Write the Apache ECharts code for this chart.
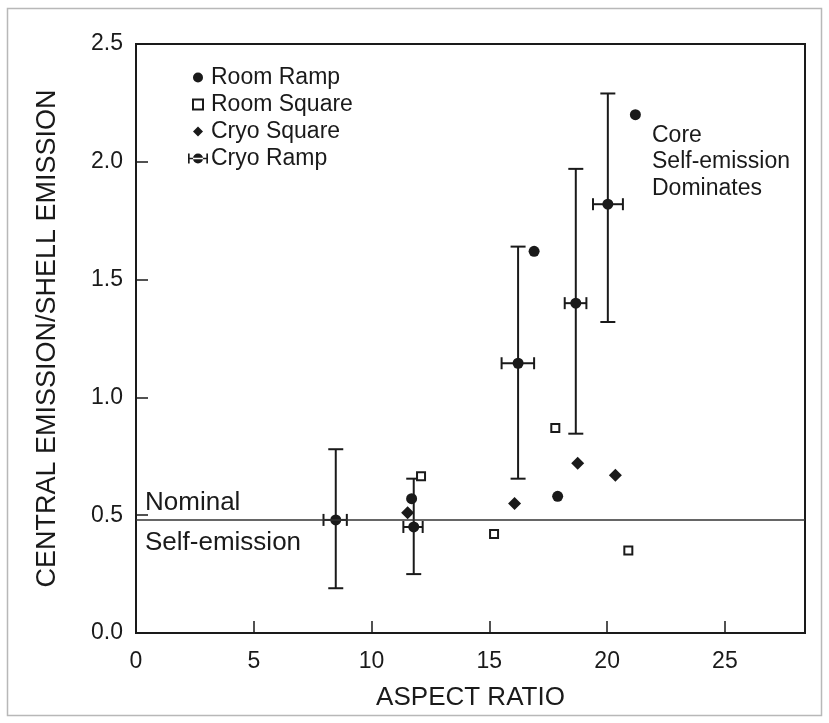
<!DOCTYPE html>
<html>
<head>
<meta charset="utf-8">
<script src="https://cdn.jsdelivr.net/npm/echarts@6/dist/echarts.min.js"></script>
<style>
  html, body { margin: 0; padding: 0; background: #fff; }
  #chart { width: 829px; height: 723px; }
</style>
</head>
<body>
<div id="chart"></div>
<script>
// ---- data ----
const roomRampX = [21.2, 16.9, 17.9, 11.7];
const roomRampY = [2.20, 1.62, 0.58, 0.57];

const roomSquareX = [17.8, 12.1, 15.2, 20.9];
const roomSquareY = [0.87, 0.665, 0.42, 0.35];

const cryoSquareX = [18.75, 20.35, 16.07, 11.53];
const cryoSquareY = [0.72, 0.67, 0.55, 0.51];

const cryoRampX     = [8.48, 11.79, 16.22, 18.67, 20.03];
const cryoRampY     = [0.48, 0.45, 1.145, 1.40, 1.82];
const cryoRampYLow  = [0.19, 0.25, 0.655, 0.846, 1.32];
const cryoRampYHigh = [0.78, 0.655, 1.64, 1.97, 2.29];
const cryoRampXLow  = [7.96, 11.35, 15.52, 18.20, 19.40];
const cryoRampXHigh = [8.95, 12.17, 16.90, 19.12, 20.67];

const nominalY = 0.48;

const xTicks = [0, 5, 10, 15, 20, 25];
const yTicks = [0.0, 0.5, 1.0, 1.5, 2.0, 2.5];

const seriesNames = ['Room Ramp', 'Room Square', 'Cryo Square', 'Cryo Ramp'];

// ---- chart ----
const ink = '#1a1a1a';
const font = 'Liberation Sans, Arial, Helvetica, sans-serif';

const zip = (a, b) => a.map((v, i) => [v, b[i]]);
const cryoData = cryoRampX.map((x, i) => [x, cryoRampY[i], cryoRampYLow[i], cryoRampYHigh[i], cryoRampXLow[i], cryoRampXHigh[i]]);

const chart = echarts.init(document.getElementById('chart'), null, { renderer: 'canvas' });

const option = {
  backgroundColor: '#fff',
  animation: false,
  textStyle: { fontFamily: font, color: ink },
  grid: {
    left: 136, right: 24, top: 44, bottom: 90,
    show: true, borderColor: ink, borderWidth: 2, backgroundColor: 'transparent'
  },
  xAxis: {
    type: 'value', min: 0, max: 28.4, interval: 5,
    name: 'ASPECT RATIO', nameLocation: 'middle', nameGap: 52,
    nameTextStyle: { fontSize: 26, color: ink, fontFamily: font },
    axisLine: { show: true, lineStyle: { color: ink, width: 2 } },
    axisTick: { show: true, inside: true, length: 12, lineStyle: { color: ink, width: 1.5 } },
    axisLabel: {
      fontSize: 23, color: ink, margin: 17, showMaxLabel: false,
      formatter: v => (xTicks.indexOf(v) >= 0 ? String(v) : '')
    },
    splitLine: { show: false }
  },
  yAxis: {
    type: 'value', min: 0, max: 2.5, interval: 0.5,
    name: 'CENTRAL EMISSION/SHELL EMISSION', nameLocation: 'middle', nameGap: 75,
    nameTextStyle: { fontSize: 27, color: ink, fontFamily: font },
    axisLine: { show: true, lineStyle: { color: ink, width: 2 } },
    axisTick: { show: true, inside: true, length: 12, lineStyle: { color: ink, width: 1.5 } },
    axisLabel: {
      fontSize: 23, color: ink, margin: 13,
      formatter: v => { const t = yTicks.find(k => Math.abs(k - v) < 1e-6); return t === undefined ? '' : t.toFixed(1); }
    },
    splitLine: { show: false }
  },
  legend: {
    orient: 'vertical', left: 183, top: 61,
    itemWidth: 24, itemHeight: 10, itemGap: 4,
    symbolKeepAspect: true,
    textStyle: { fontSize: 23, color: ink, fontFamily: font, padding: [0, 0, 0, -4] },
    data: [
      { name: seriesNames[0], icon: 'circle' },
      { name: seriesNames[1], icon: 'path://M0,0h10v10h-10z' },
      { name: seriesNames[2], icon: 'path://M5,0L10,5L5,10L0,5z' },
      { name: seriesNames[3], icon: 'path://M0,0h2v12h-2z M2,5h20v2h-20z M22,0h2v12h-2z M6,6a6,6 0 1,0 12,0a6,6 0 1,0 -12,0z' }
    ],
    selectedMode: false
  },
  graphic: [
    { type: 'rect', silent: true, z: -1, shape: { x: 7.5, y: 8.5, width: 814, height: 707 },
      style: { fill: 'none', stroke: '#b8b8b8', lineWidth: 1.5 } },
    { type: 'text', left: 145, top: 490, silent: true,
      style: { text: 'Nominal', font: '26px ' + font, fill: ink } },
    { type: 'text', left: 145, top: 530, silent: true,
      style: { text: 'Self-emission', font: '26px ' + font, fill: ink } },
    { type: 'text', left: 652, top: 122, silent: true,
      style: { text: 'Core\nSelf-emission\nDominates', font: '23px ' + font, fill: ink, lineHeight: 26.5 } }
  ],
  series: [
    {
      name: seriesNames[3], type: 'custom', z: 3,
      itemStyle: { color: ink },
      data: cryoData,
      encode: { x: 0, y: 1 },
      renderItem: function (params, api) {
        const x = api.value(0), y = api.value(1);
        const c = api.coord([x, y]);
        const lo = api.coord([x, api.value(2)]);
        const hi = api.coord([x, api.value(3)]);
        const xl = api.coord([api.value(4), y]);
        const xh = api.coord([api.value(5), y]);
        const capW = 7.5, capH = 6;
        const ls = { stroke: ink, lineWidth: 2 };
        return {
          type: 'group',
          children: [
            { type: 'line', shape: { x1: lo[0], y1: lo[1], x2: hi[0], y2: hi[1] }, style: ls },
            { type: 'line', shape: { x1: lo[0] - capW, y1: lo[1], x2: lo[0] + capW, y2: lo[1] }, style: ls },
            { type: 'line', shape: { x1: hi[0] - capW, y1: hi[1], x2: hi[0] + capW, y2: hi[1] }, style: ls },
            { type: 'line', shape: { x1: xl[0], y1: xl[1], x2: xh[0], y2: xh[1] }, style: ls },
            { type: 'line', shape: { x1: xl[0], y1: xl[1] - capH, x2: xl[0], y2: xl[1] + capH }, style: ls },
            { type: 'line', shape: { x1: xh[0], y1: xh[1] - capH, x2: xh[0], y2: xh[1] + capH }, style: ls },
            { type: 'circle', shape: { cx: c[0], cy: c[1], r: 5.5 }, style: { fill: ink } }
          ]
        };
      },
      markLine: {
        silent: true, symbol: 'none', label: { show: false },
        lineStyle: { color: '#333', width: 1.5, type: 'solid' },
        data: [{ yAxis: nominalY }]
      }
    },
    {
      name: seriesNames[0], type: 'scatter', symbol: 'circle', symbolSize: 11, z: 4,
      itemStyle: { color: ink, opacity: 1 },
      data: zip(roomRampX, roomRampY)
    },
    {
      name: seriesNames[1], type: 'scatter', symbol: 'rect', symbolSize: 8, z: 4,
      itemStyle: { color: '#fff', borderColor: ink, borderWidth: 2, opacity: 1 },
      data: zip(roomSquareX, roomSquareY)
    },
    {
      name: seriesNames[2], type: 'scatter', symbol: 'diamond', symbolSize: 13, z: 4,
      itemStyle: { color: ink, opacity: 1 },
      data: zip(cryoSquareX, cryoSquareY)
    }
  ]
};

chart.setOption(option);
</script>
</body>
</html>
